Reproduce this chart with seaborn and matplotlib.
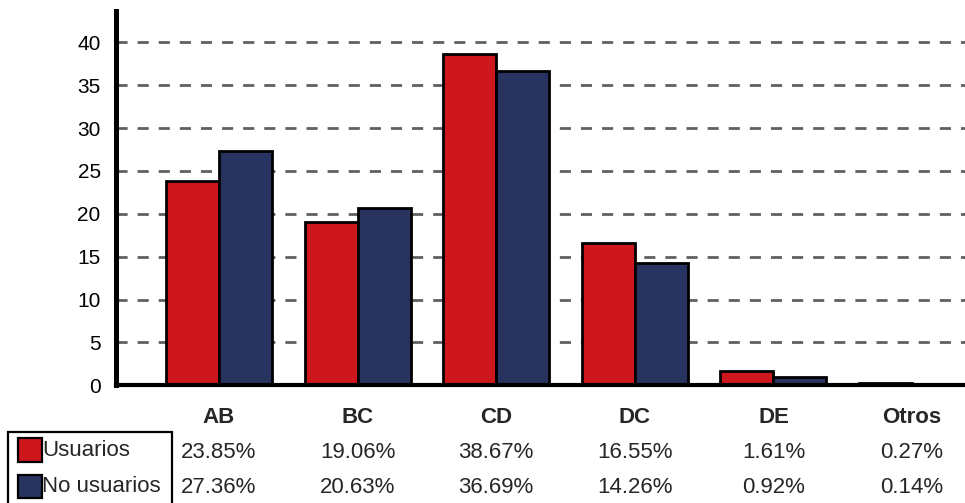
import pandas as pd
import matplotlib.pyplot as plt
import matplotlib.transforms as mtransforms
from matplotlib.patches import Rectangle
import seaborn as sns

# Datos (porcentaje por nivel socioeconomico)
categorias = ['AB', 'BC', 'CD', 'DC', 'DE', 'Otros']
usuarios = [23.85, 19.06, 38.67, 16.55, 1.61, 0.27]
no_usuarios = [27.36, 20.63, 36.69, 14.26, 0.92, 0.14]
series = ['Usuarios', 'No usuarios']
colores = ['#CD171D', '#28345F']

df = pd.DataFrame({
    'cat': categorias * 2,
    'val': usuarios + no_usuarios,
    'grupo': [series[0]] * len(categorias) + [series[1]] * len(categorias),
})

sns.set_style('white')
plt.rcParams['font.family'] = ['Liberation Sans', 'DejaVu Sans']

W, H = 965, 503
fig = plt.figure(figsize=(W / 100, H / 100), dpi=100)


def fx(x):
    return x / W


def fy(y):
    return 1 - y / H


ax = fig.add_axes([fx(116), fy(385.3), fx(965 - 116), (385.3 - 11) / H])

sns.barplot(data=df, x='cat', y='val', hue='grupo', palette=colores,
            width=0.765, saturation=1, edgecolor='black', linewidth=2,
            legend=False, ax=ax)

ax.set_xlim(-0.743, 5.382)
ax.set_ylim(0, 43.65)
ax.set_yticks(range(0, 41, 5))
ax.set_xticks([])
ax.set_xlabel('')
ax.set_ylabel('')
ax.tick_params(axis='y', length=0, pad=11, labelsize=15, labelcolor='black')

ax.set_axisbelow(True)
ax.yaxis.grid(True, color='#606060', linewidth=2, linestyle=(0, (4, 3.6)))
ax.xaxis.grid(False)

sns.despine(ax=ax, top=True, right=True)
ax.spines['left'].set_linewidth(3.6)
ax.spines['left'].set_color('black')
ax.spines['bottom'].set_linewidth(3)
ax.spines['bottom'].set_color('black')

# Tabla de datos bajo el grafico
trans = mtransforms.blended_transform_factory(ax.transData, fig.transFigure)
for i, cat in enumerate(categorias):
    ax.text(i, fy(417.5), cat, transform=trans, ha='center', va='center',
            fontsize=16, fontweight='bold', clip_on=False)
    ax.text(i, fy(453), f'{usuarios[i]:.2f}%', transform=trans,
            ha='center', va='center', fontsize=16, clip_on=False)
    ax.text(i, fy(487.5), f'{no_usuarios[i]:.2f}%', transform=trans,
            ha='center', va='center', fontsize=16, clip_on=False)

# Caja de leyenda
fig.patches.append(Rectangle((fx(8.3), fy(520)), fx(172.3 - 8.3), (520 - 431.7) / H,
                             transform=fig.transFigure, fill=False,
                             edgecolor='black', linewidth=1.6))
for nombre, color, y0, y1 in [(series[0], colores[0], 438.3, 461.7),
                              (series[1], colores[1], 475, 498.3)]:
    fig.patches.append(Rectangle((fx(18.3), fy(y1)), fx(41.7 - 18.3), (y1 - y0) / H,
                                 transform=fig.transFigure, facecolor=color,
                                 edgecolor='black', linewidth=1.6))
    fig.text(fx(42.5), fy((y0 + y1) / 2), nombre, ha='left', va='center',
             fontsize=16)

fig.savefig('out.png', dpi=100)
